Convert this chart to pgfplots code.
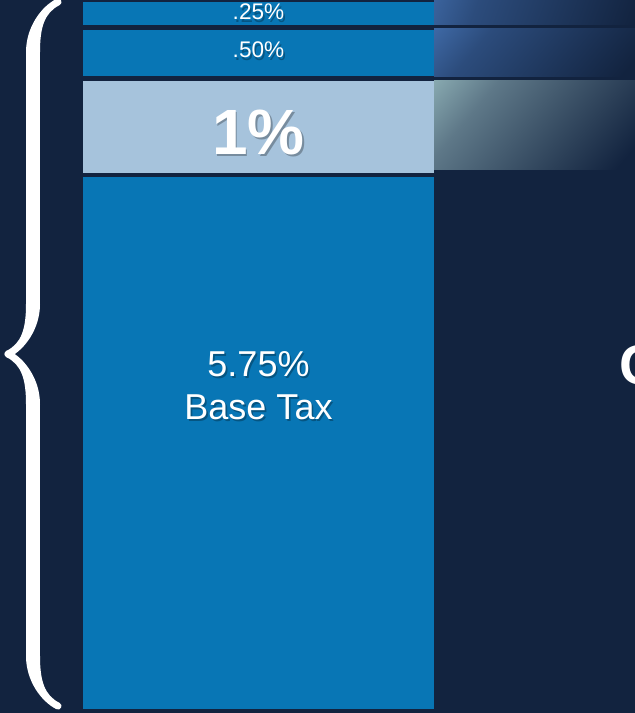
\documentclass[border=0pt]{standalone}
\usepackage{pgfplots}
\pgfplotsset{compat=1.18}
\usepackage{fontspec}
\setmainfont{Liberation Sans}
\usetikzlibrary{decorations.pathreplacing,calligraphy}
\definecolor{bg}{HTML}{12233F}
\definecolor{barblue}{HTML}{0876B5}
\definecolor{barlight}{HTML}{A6C3DC}
\definecolor{bandA}{HTML}{B0D8D6}
\definecolor{bandAm}{HTML}{5E7888}
\definecolor{bandB}{HTML}{5084CC}
\definecolor{bandBm}{HTML}{2C4C7C}
\pgfdeclarehorizontalshading{bandone}{100bp}{color(0bp)=(bandA); color(30bp)=(bandAm); color(75bp)=(bg); color(100bp)=(bg)}
\pgfdeclarehorizontalshading{bandtwo}{100bp}{color(0bp)=(bandB); color(30bp)=(bandBm); color(75bp)=(bg); color(100bp)=(bg)}
\newcommand{\stxt}[3]{%
  \node[text=black, opacity=0.28, font=#2, align=center, inner sep=0pt] at ([shift={(0.8pt,-1.2pt)}]#1) {#3};
  \node[text=white, font=#2, align=center, inner sep=0pt] at (#1) {#3};}
\pgfplotsset{base/.style={at={(0,0)}, anchor=south west, width=317.5pt, height=356.5pt,
  scale only axis, xmin=0, xmax=635, ymin=-0.0432, ymax=7.665, ticks=none,
  axis line style={draw=none}, ybar stacked}}
\begin{document}
\begin{tikzpicture}
\begin{axis}[base, axis background/.style={fill=bg}, bar width=351]
\addplot[fill=barblue, draw=none] coordinates {(258.5,5.75)};
\addplot[fill=none, draw=none] coordinates {(258.5,0.04)};
\addplot[fill=barlight, draw=none] coordinates {(258.5,1)};
\addplot[fill=none, draw=none] coordinates {(258.5,0.05)};
\addplot[fill=barblue, draw=none] coordinates {(258.5,0.5)};
\addplot[fill=none, draw=none] coordinates {(258.5,0.05)};
\addplot[fill=barblue, draw=none] coordinates {(258.5,0.25)};
\end{axis}
\begin{axis}[base, bar width=226]
\addplot[fill=none, draw=none] coordinates {(547,5.83)};
\addplot[draw=none, shade, shading=bandone, shading angle=-40] coordinates {(547,0.97)};
\addplot[fill=none, draw=none] coordinates {(547,0.035)};
\addplot[draw=none, shade, shading=bandtwo, shading angle=-40] coordinates {(547,0.52)};
\addplot[fill=none, draw=none] coordinates {(547,0.05)};
\addplot[draw=none, shade, shading=bandtwo, shading angle=-20] coordinates {(547,0.25)};
\draw[decorate, decoration={calligraphic brace, amplitude=25pt}, line width=7pt, pen colour={white}]
  (axis cs:58,0.032) -- (axis cs:58,7.643);
\coordinate (tA) at (axis cs:258.5,7.535);
\coordinate (tB) at (axis cs:258.5,7.124);
\coordinate (tC) at (axis cs:258.5,6.238);
\coordinate (tD) at (axis cs:258.5,3.50);
\end{axis}
\stxt{tA}{\fontsize{11.3}{13}\selectfont}{.25\%}
\stxt{tB}{\fontsize{11.3}{13}\selectfont}{.50\%}
\stxt{tC}{\bfseries\fontsize{32}{36}\selectfont}{1\%}
\stxt{tD}{\fontsize{18}{21.5}\selectfont}{5.75\%\\Base Tax}
\begin{scope}
\clip (0,0) rectangle (317.5pt,356.5pt);
\node[text=white, font=\bfseries\fontsize{28}{32}\selectfont, anchor=west] at (306pt,174pt) {C};
\end{scope}
\end{tikzpicture}
\end{document}
